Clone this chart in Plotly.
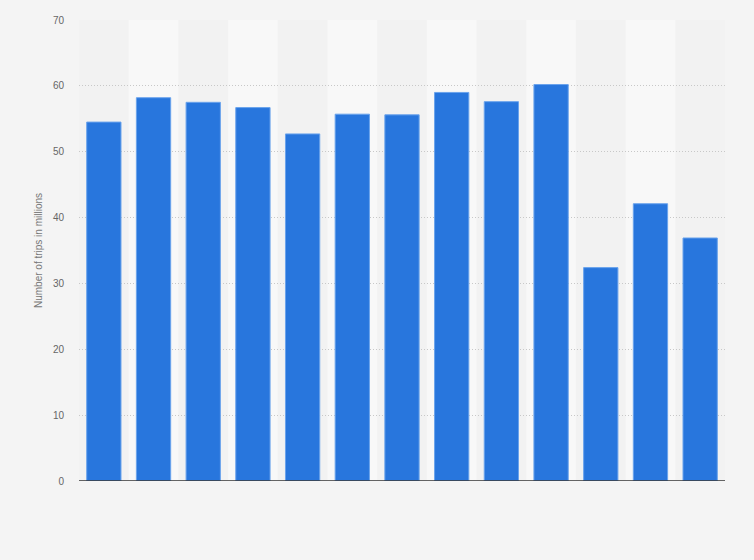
import plotly.graph_objects as go

# x labels are not shown in the picture; keep neutral category names
categories = ["P1", "P2", "P3", "P4", "P5", "P6", "P7", "P8", "P9", "P10", "P11", "P12", "P13"]
trips = [54.5, 58.2, 57.5, 56.7, 52.7, 55.7, 55.6, 59.0, 57.6, 60.2, 32.4, 42.1, 36.9]
y_ticks = [0, 10, 20, 30, 40, 50, 60, 70]

bar = go.Bar(
    x=categories, y=trips, width=0.69,
    marker=dict(color="#2876dd", line=dict(color="#6aa3ec", width=1)),
    hoverinfo="x+y",
)

# lighter background band behind every second category
bands = []
for i, c in enumerate(categories):
    if i % 2 == 1:
        bands.append(dict(type="rect", xref="x", yref="paper",
                          x0=i - 0.5, x1=i + 0.5, y0=0, y1=1,
                          fillcolor="#f8f8f8", line=dict(width=0), layer="below"))

layout = go.Layout(
    width=754, height=560,
    paper_bgcolor="#f4f4f4", plot_bgcolor="#f2f2f2",
    margin=dict(l=79, r=29, t=20, b=79),
    showlegend=False,
    bargap=0.31,
    font=dict(family="Liberation Sans, Arial, sans-serif", color="#666666"),
    xaxis=dict(showticklabels=False, showgrid=False, zeroline=False,
               showline=False, ticks="", range=[-0.5, len(categories) - 0.5]),
    yaxis=dict(range=[0, 70], tickvals=y_ticks, showgrid=True,
               gridcolor="#c8c8c8", griddash="1px,2px", gridwidth=1,
               zeroline=False, showline=False, ticks="", ticklabelstandoff=14,
               tickfont=dict(size=10, color="#666666"),
               title=dict(text="Number of trips in millions",
                          font=dict(size=10, color="#777777"), standoff=8)),
    shapes=bands + [dict(type="line", xref="paper", yref="y", x0=0, x1=1,
                         y0=0, y1=0, line=dict(color="#333333", width=1.5))],
)

fig = go.Figure(data=[bar], layout=layout)
fig.write_html("out.html", config={"displayModeBar": False},
               post_script="document.body.style.margin='0';")
